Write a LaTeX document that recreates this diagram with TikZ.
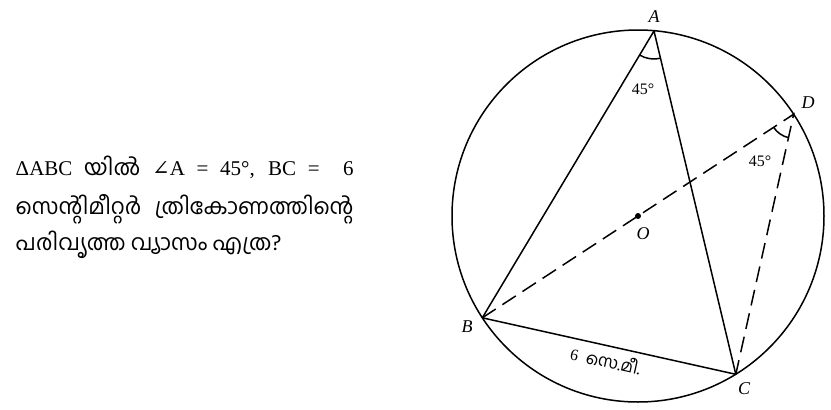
\documentclass[tikz,border=0pt]{standalone}
\usepackage{fontspec}
\setmainfont{Liberation Serif}
\newfontfamily\malfont[Script=Malayalam,Scale=1.05]{Hind Kochi}
\newfontfamily\symfont{DejaVu Serif}
\usetikzlibrary{calc}

\begin{document}
\begin{tikzpicture}[x=1pt,y=-1pt,line width=1.5pt,
   lbl/.style={font=\fontsize{18}{18}\selectfont\itshape,inner sep=0pt},
   deg/.style={font=\fontsize{16}{16}\selectfont,inner sep=0pt},
   txt/.style={font=\fontsize{21}{21}\selectfont,anchor=base west,inner sep=0pt},
   dsh/.style={dash pattern=on 16pt off 8pt}]
  \useasboundingbox (0,0) rectangle (831,410);
  % circle and the four points on it
  \coordinate (O) at (638,216);
  \coordinate (A) at (654,31);
  \coordinate (B) at (482.3,317.8);
  \coordinate (C) at (735.8,374.3);
  \coordinate (D) at (793.7,114.2);
  \draw (O) circle (186pt);
  \draw[line join=round] (A) -- (B) -- (C) -- cycle;
  \draw[dsh] (B) -- (D) -- (C);
  \fill (O) circle (3pt);
  % angle marks
  \foreach \vx/\pa/\pb/\rad in {A/B/C/28pt,D/B/C/24pt}
    \draw let \p1=($(\pa)-(\vx)$), \p2=($(\pb)-(\vx)$),
              \n1={atan2(\y1,\x1)}, \n2={atan2(\y2,\x2)} in
      ($(\vx)!\rad!(\pa)$) arc[start angle=\n1,end angle=\n2,radius=\rad];
  % labels
  \node[lbl] (nA) at (654,17) {A};
  \node[lbl] (nB) at (467,327) {B};
  \node[lbl] (nC) at (744,389) {C};
  \node[lbl] (nD) at (808,103) {D};
  \node[lbl] (nO) at (643,234) {O};
  \node[deg] (aA) at (643,89) {45°};
  \node[deg] (aD) at (760,161) {45°};
  \path (B) -- node[sloped,below=6pt,deg] (bc) {6\ \ {\malfont സെ.മീ.}} (C);
  % question
  \node[txt] (q1) at (15,175) {\makebox[338pt][s]{ΔABC {\malfont യിൽ} {\symfont ∠}A = 45°, BC = \ 6}};
  \node[txt] (q2) at (15,214) {\makebox[338pt][s]{\malfont സെന്റിമീറ്റർ ത്രികോണത്തിന്റെ}};
  \node[txt] (q3) at (15,250) {\malfont പരിവൃത്ത വ്യാസം എത്ര?};
\end{tikzpicture}
\end{document}
